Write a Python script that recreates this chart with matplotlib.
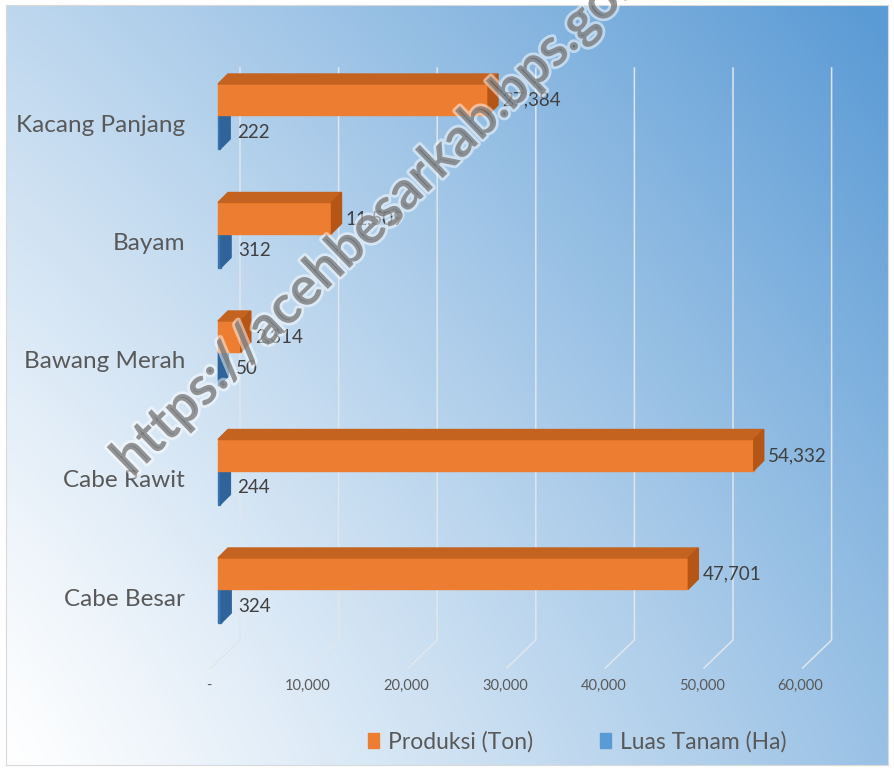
import matplotlib.pyplot as plt
import matplotlib.patheffects as pe
from matplotlib.patches import Polygon, Rectangle, Patch
import numpy as np

plt.rcParams['font.family'] = ['Lato', 'DejaVu Sans']

categories = ['Kacang Panjang', 'Bayam', 'Bawang Merah', 'Cabe Rawit', 'Cabe Besar']
produksi = [27384, 11509, 2314, 54332, 47701]
luas_tanam = [222, 312, 50, 244, 324]
xticks = [0, 10000, 20000, 30000, 40000, 50000, 60000]
xtick_labels = ['-', '10,000', '20,000', '30,000', '40,000', '50,000', '60,000']

W, H = 894, 769
fig = plt.figure(figsize=(W / 100, H / 100), dpi=100)

# gradient background (white bottom-left -> blue top-right)
bg = fig.add_axes([6 / W, 1 - 765 / H, 882 / W, 760 / H])
xx, yy = np.meshgrid(np.linspace(0, 1, 400), np.linspace(0, 1, 400))
t = np.clip(0.62 * xx ** 1.1 + 0.4 * yy ** 1.2, 0, 1)
white = np.array([1.0, 1.0, 1.0])
blue = np.array([91, 155, 213]) / 255
img = white + (blue - white) * t[..., None]
bg.imshow(img, origin='lower', extent=[0, 1, 0, 1], aspect='auto')
bg.set_xticks([])
bg.set_yticks([])
for s in bg.spines.values():
    s.set_color('#d9d9d9')

# main axes: x px per 10k = 98.6, category spacing 118.5 px
PXX = 98.6 / 10000
PXY = 118.5
left_px, top_px, bot_px = 218, 60, 670
ax = fig.add_axes([left_px / W, 1 - bot_px / H, 60000 * PXX / W, (bot_px - top_px) / H])
ax.set_xlim(0, 60000)
ax.set_ylim((bot_px - 115) / PXY, (top_px - 115) / PXY)
ax.axis('off')


def ux(px):
    return px / PXX


def uy(px):
    return px / PXY


# gridlines on back wall + floor diagonals
for v in xticks:
    ax.plot([v + ux(22), v + ux(22), v - ux(7)],
            [uy(68 - 115), uy(640 - 115), uy(668 - 115)],
            color=(0.88, 0.9, 0.93), lw=1.1, clip_on=False, zorder=1)
for v, lab in zip(xticks, xtick_labels):
    ax.text(v - ux(9), uy(686 - 115), lab, ha='center', va='center',
            fontsize=10.5, color='#595959', clip_on=False)

dx, dy = ux(10), uy(10)
ho, hb = uy(31), uy(34)

for i, (cat, p, l) in enumerate(zip(categories, produksi, luas_tanam)):
    # blue bar (behind)
    ax.add_patch(Rectangle((0, i), l, hb, color='#3a75b0', zorder=2, clip_on=False))
    ax.add_patch(Polygon([(l, i), (l + dx, i - dy), (l + dx, i + hb - dy), (l, i + hb)],
                         color='#2f6399', zorder=2, clip_on=False))
    # orange bar
    top = i - ho
    ax.add_patch(Rectangle((0, top), p, ho, color='#ed7d31', zorder=3, clip_on=False))
    ax.add_patch(Polygon([(0, top), (p, top), (p + dx, top - dy), (dx, top - dy)],
                         color='#c4621f', zorder=3, clip_on=False))
    ax.add_patch(Polygon([(p, top), (p + dx, top - dy), (p + dx, i - dy), (p, i)],
                         color='#b55516', zorder=3, clip_on=False))
    ax.text(p + dx + ux(4), i - uy(15), f'{p:,}', ha='left', va='center',
            fontsize=13.5, color='#404040', zorder=5)
    ax.text(l + dx + ux(7), i + uy(17), f'{l:,}', ha='left', va='center',
            fontsize=13.5, color='#404040', zorder=5)
    ax.text(-ux(33), i + uy(10), cat, ha='right', va='center',
            fontsize=17.5, color='#595959', clip_on=False)

fig.legend(handles=[Patch(color='#ed7d31', label='Produksi (Ton)'),
                    Patch(color='#5b9bd5', label='Luas Tanam (Ha)')],
           loc='center left', bbox_to_anchor=(347 / W, 1 - 742 / H), ncol=2, frameon=False,
           fontsize=16.5, handlelength=0.5, handleheight=0.6, columnspacing=2.9,
           handletextpad=0.4, labelcolor='#595959')

# watermark (runs off the top edge, as in the source image)
fig.text(132 / W, 1 - 478 / H, 'https://acehbesarkab.bps.go.id', rotation=44,
         rotation_mode='anchor', ha='left', va='baseline', fontsize=38.5,
         fontweight='bold', color=(0.35, 0.35, 0.35), alpha=0.5,
         path_effects=[pe.withStroke(linewidth=4, foreground='white')])

fig.savefig('out.png', dpi=100)
